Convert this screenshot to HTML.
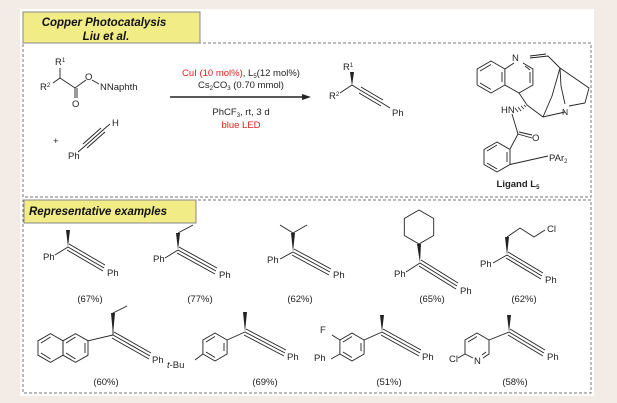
<!DOCTYPE html>
<html><head><meta charset="utf-8"><style>
html,body{margin:0;padding:0;background:#f3ebe6;}
svg{display:block;font-family:"Liberation Sans",sans-serif;}
text{font-size:9.5px;fill:#222;}
.t{font-size:11.5px;font-weight:bold;font-style:italic;fill:#111;}
.s{font-size:6px;}
.r{fill:#e02020;}
</style></head><body>
<svg width="617" height="403" viewBox="0 0 617 403" xmlns="http://www.w3.org/2000/svg">
<rect x="20" y="9" width="574" height="387" fill="#fff"/>
<g fill="none" stroke="#777" stroke-width="1" stroke-dasharray="3,2">
<rect x="23" y="43" width="568" height="154"/>
<rect x="23" y="200" width="568" height="193"/>
</g>
<rect x="23" y="12" width="177" height="31" fill="#f2ec86" stroke="#888" stroke-width="1"/>
<text class="t" x="104" y="26" text-anchor="middle">Copper Photocatalysis</text>
<text class="t" x="106" y="40" text-anchor="middle">Liu et al.</text>
<rect x="24" y="200" width="172" height="23" fill="#f2ec86" stroke="#888" stroke-width="1"/>
<text class="t" x="29" y="215">Representative examples</text>

<g stroke="#222" stroke-width="0.9" fill="none">
<path d="M60,68 L60,78 L53,83 M60,78 L75,88 L86,80 M92,80 L99,84 M75,88 L75,98 M77,88 L77,98"/>
<path d="M78,152 L85,146 M85,146 L103,130 M87,148 L105,132 M83,144 L101,128 M103,130 L110,124"/>
<path d="M170,97 L302,97" stroke-width="1.5"/>
<path d="M352,85 L360,90 M360,90 L382,103 M361,87 L383,100 M359,93 L381,106 M382,103 L390,108 M352,85 L340,93"/>
</g>
<path d="M302,94 L311,97 L302,100 Z" fill="#222"/>
<path d="M352,86 L350,72 L354,72 Z" fill="#222"/>
<text x="55" y="65">R<tspan class="s" dy="-3">1</tspan></text>
<text x="40" y="90">R<tspan class="s" dy="-3">2</tspan></text>
<text x="85" y="80">O</text>
<text x="100" y="90">NNaphth</text>
<text x="72" y="107">O</text>
<text x="53" y="144">+</text>
<text x="68" y="159">Ph</text>
<text x="112" y="126">H</text>
<text x="241" y="76" text-anchor="middle"><tspan class="r">CuI (10 mol%)</tspan>, L<tspan class="s" dy="2">5</tspan><tspan dy="-2">(12 mol%)</tspan></text>
<text x="241" y="88" text-anchor="middle">Cs<tspan class="s" dy="2">2</tspan><tspan dy="-2">CO</tspan><tspan class="s" dy="2">3</tspan><tspan dy="-2"> (0.70 mmol)</tspan></text>
<text x="241" y="115" text-anchor="middle">PhCF<tspan class="s" dy="2">3</tspan><tspan dy="-2">, rt, 3 d</tspan></text>
<text x="241" y="128" text-anchor="middle" class="r">blue LED</text>
<text x="343" y="70">R<tspan class="s" dy="-3">1</tspan></text>
<text x="329" y="99">R<tspan class="s" dy="-3">2</tspan></text>
<text x="392" y="116">Ph</text>

<g stroke="#222" stroke-width="0.9" fill="none">
<polygon points="491,61 504.9,69 504.9,85 491,93 477.1,85 477.1,69"/>
<path d="M480,71 L491,64.5 M480,83 L491,89.5 M502,72 L502,82"/>
<path d="M504.9,69 L514,63 M523,63 L532.9,69 L532.9,85 L519,93 L504.9,85 M525,66 L530,70 M530,72 L530,83"/>
<path d="M519,93 L527,105 M527,105 L543,117 L565,112"/>
<path d="M543,117 L552,96 L560,68 M569,106 L585,103 L589,88 L560,68 M565,104 L561,86 L560,68 M560,68 L548,56 L530,58 M546,54 L530,56"/>
<path d="M512,114 L518,134 L532,138 M519,132 L532,135 M518,134 L510,149"/>
<polygon points="497,142 510,149.5 510,164.5 497,172 484,164.5 484,149.5"/>
<path d="M487,151 L497,145 M487,163 L497,169 M507,152 L507,162 M510,164.5 L548,156"/>
</g>
<g stroke="#222" stroke-width="0.8"><path d="M524,105 L526,107 M521,106 L524,109 M518,107 L521,111 M515,108 L518,112"/></g>
<text x="512" y="61">N</text>
<text x="562" y="115" style="font-size:8.5px">N</text>
<text x="501" y="113">HN</text>
<text x="532" y="141">O</text>
<text x="549" y="161">PAr<tspan class="s" dy="2">2</tspan></text>
<text x="518" y="187" text-anchor="middle" style="font-weight:bold">Ligand L<tspan class="s" dy="2">5</tspan></text>

<g stroke="#222" stroke-width="0.9" fill="none">
<path d="M68,247 L55,255 M68,247 L104,268 M69,244 L105,265 M67,250 L103,271"/>
<path d="M178,250 L165,258 M178,233 L193,225 M178,250 L216,271 M179,247 L217,268 M177,253 L215,274"/>
<path d="M293,252 L280,259 M293,233 L280,225 M293,233 L307,225 M293,252 L330,272 M294,249 L331,269 M292,255 L329,275"/>
<polygon points="419,210 433.7,218.5 433.7,235.5 419,244 404.3,235.5 404.3,218.5"/>
<path d="M420,263 L406,272 M420,263 L457,286 M421,260 L458,283 M419,266 L456,289"/>
<path d="M507,237 L520,228 L534,237 L545,230 M507,255 L493,263 M507,255 L542,276 M508,252 L543,273 M506,258 L541,279"/>
<polygon points="50.5,333.6 63,340.8 63,355.2 50.5,362.4 38,355.2 38,340.8"/>
<polygon points="75.5,333.6 88,340.8 88,355.2 75.5,362.4 63,355.2 63,340.8"/>
<path d="M41,343 L50.5,337 M41,353 L50.5,359 M66,343 L75.5,337 M85,343 L85,353 M66,353 L75.5,359"/>
<path d="M88,340.8 L113,335 L113,313 L127,306 M113,335 L150,356 M114,332 L151,353 M112,338 L149,359"/>
<polygon points="215,333 227.1,340 227.1,354 215,361 202.9,354 202.9,340"/>
<path d="M206,342 L215,336.5 M206,352 L215,357.5 M224,343 L224,351 M227.1,340 L245,332 M202.9,354 L195,360 M245,332 L285,353 M246,329 L286,350 M244,335 L284,356"/>
<polygon points="352,333 364.1,340 364.1,354 352,361 339.9,354 339.9,340"/>
<path d="M343,342 L352,336.5 M343,352 L352,357.5 M361,343 L361,351 M339.9,340 L332,335 M339.9,354 L331,359 M364.1,340 L382,332 M382,332 L420,353 M383,329 L421,350 M381,335 L419,356"/>
<path d="M489,340 L489,354 L483,358 M473,358 L465,354 L465,340 L477,333 L489,340 M468,342 L477,336.5 M486,352 L482,355 M465,354 L458,358"/>
<path d="M489,340 L509,332 M509,332 L544,353 M510,329 L545,350 M508,335 L543,356"/>
</g>
<g fill="#222">
<path d="M68,247 L66,230 L70,230 Z"/>
<path d="M178,250 L176,233 L180,233 Z"/>
<path d="M293,252 L291,233 L295,233 Z"/>
<path d="M420,263 L417,244 L421,244 Z"/>
<path d="M507,255 L505,237 L509,237 Z"/>
<path d="M113,335 L111,313 L115,313 Z"/>
<path d="M245,332 L243,312 L247,312 Z"/>
<path d="M382,332 L380,315 L384,315 Z"/>
<path d="M509,332 L507,315 L511,315 Z"/>
</g>
<text x="43" y="260">Ph</text><text x="107" y="276">Ph</text><text x="90" y="302" text-anchor="middle">(67%)</text>
<text x="153" y="262">Ph</text><text x="219" y="278">Ph</text><text x="200" y="302" text-anchor="middle">(77%)</text>
<text x="267" y="263">Ph</text><text x="333" y="278">Ph</text><text x="300" y="302" text-anchor="middle">(62%)</text>
<text x="394" y="277">Ph</text><text x="460" y="294">Ph</text><text x="432" y="302" text-anchor="middle">(65%)</text>
<text x="480" y="267">Ph</text><text x="545" y="283">Ph</text><text x="547" y="232">Cl</text><text x="524" y="302" text-anchor="middle">(62%)</text>
<text x="152" y="363">Ph</text><text x="106" y="385" text-anchor="middle">(60%)</text>
<text x="167" y="368"><tspan font-style="italic">t</tspan>-Bu</text><text x="287" y="360">Ph</text><text x="265" y="385" text-anchor="middle">(69%)</text>
<text x="320" y="333">F</text><text x="314" y="361">Ph</text><text x="422" y="360">Ph</text><text x="389" y="385" text-anchor="middle">(51%)</text>
<text x="449" y="362">Cl</text><text x="474" y="364">N</text><text x="547" y="360">Ph</text><text x="515" y="385" text-anchor="middle">(58%)</text>
</svg>
</body></html>
